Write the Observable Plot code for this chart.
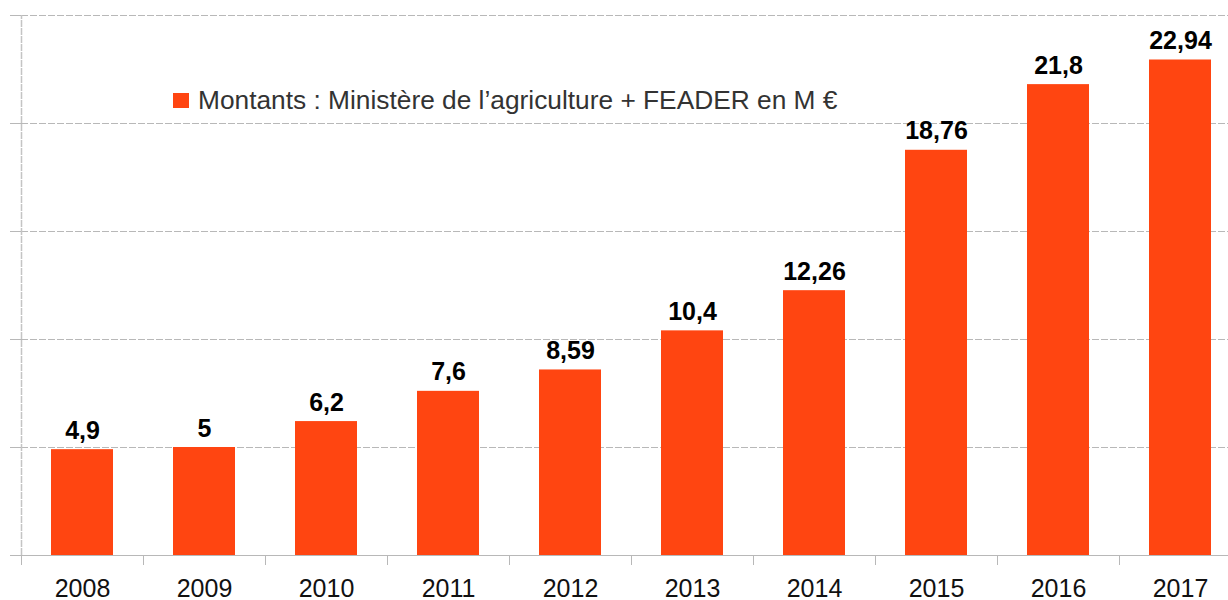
<!DOCTYPE html>
<html>
<head>
<meta charset="utf-8">
<script src="https://cdn.jsdelivr.net/npm/d3@7"></script>
<script src="https://cdn.jsdelivr.net/npm/@observablehq/plot@0.6"></script>
<style>
  html, body { margin: 0; padding: 0; background: #fff; overflow: hidden; }
  #wrap { position: relative; width: 1228px; height: 600px; overflow: hidden; }
  #wrap svg { max-width: none !important; position: absolute; left: 0; top: 0; }
  #legend { position: absolute; z-index: 2; left: 173px; top: 85px; font-family: "Liberation Sans", Arial, sans-serif; font-size: 26.3px; color: #333; display: flex; align-items: center; white-space: nowrap; }
  #legend .sw { width: 16px; height: 15px; background: #FF4511; margin-right: 9px; }
</style>
</head>
<body>
<div id="wrap"><div id="legend"><span class="sw"></span><span id="legtext"></span></div></div>
<script>
const years = [2008, 2009, 2010, 2011, 2012, 2013, 2014, 2015, 2016, 2017];
const values = [4.9, 5, 6.2, 7.6, 8.59, 10.4, 12.26, 18.76, 21.8, 22.94];
const yTicks = [0, 5, 10, 15, 20, 25];
const seriesName = "Montants : Ministère de l’agriculture + FEADER en M €";

document.getElementById("legtext").textContent = seriesName;

const data = years.map((year, i) => ({year, value: values[i]}));
const fmt = v => String(v).replace(".", ",");
const boundaries = d3.range(years[0], years[years.length - 1] + 2);
const centers = years.map(y => y + 0.5);

const chart = Plot.plot({
  width: 1241,
  height: 600,
  marginLeft: 21,
  marginRight: 0,
  marginTop: 15,
  marginBottom: 45,
  style: {fontFamily: "'Liberation Sans', Arial, sans-serif", background: "#fff", maxWidth: "none"},
  x: {type: "linear", domain: [years[0], years[years.length - 1] + 1], label: null},
  y: {domain: [0, 25], label: null},
  marks: [
    Plot.ruleY(yTicks.filter(d => d > 0), {stroke: "#b8b8b8", strokeDasharray: "7,2", strokeWidth: 1}),
    Plot.ruleX([years[0]], {stroke: "#c4c4c4", strokeDasharray: "7,1", strokeWidth: 1.5, y1: 0, y2: 25}),
    Plot.axisY({ticks: yTicks, tickSize: 11, tickFormat: () => "", stroke: "#b8b8b8", label: null}),
    Plot.rectY(data, {x: "year", y: "value", interval: 1, insetLeft: 30, insetRight: 30, fill: "#FF4511"}),
    Plot.ruleY([0], {stroke: "#b8b8b8", strokeWidth: 1.2}),
    Plot.axisX({ticks: boundaries, tickSize: 10, tickFormat: () => "", stroke: "#b8b8b8", label: null}),
    Plot.axisX({ticks: centers, tickSize: 0, tickPadding: 24, tickFormat: d => String(d - 0.5), fontSize: 25, fill: "#111", label: null}),
    Plot.text(data, {x: d => d.year + 0.5, y: "value", text: d => fmt(d.value), lineAnchor: "bottom", dy: -11, fontSize: 25, fontWeight: "bold", fill: "#000"})
  ]
});
document.getElementById("wrap").prepend(chart);
</script>
</body>
</html>
